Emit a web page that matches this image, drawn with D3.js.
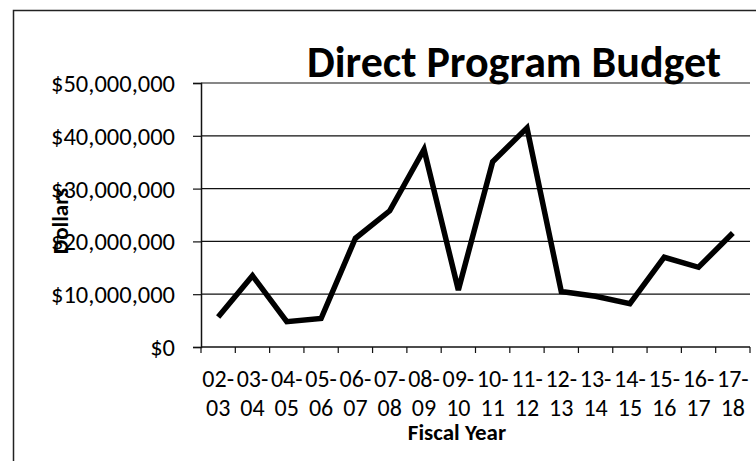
<!DOCTYPE html>
<html>
<head>
<meta charset="utf-8">
<script src="https://cdn.jsdelivr.net/npm/d3@7"></script>
<style>
  html, body { margin: 0; padding: 0; background: #fff; }
  svg { display: block; }
  text { font-family: Carlito, Calibri, Lato, "Open Sans", sans-serif; fill: #000; }
</style>
</head>
<body>
<svg id="chart" width="756" height="461"></svg>
<script>
const categories = ["02-03","03-04","04-05","05-06","06-07","07-08","08-09","09-10","10-11","11-12","12-13","13-14","14-15","15-16","16-17","17-18"];
const budget = [5700000, 13500000, 4800000, 5400000, 20600000, 25800000, 37400000, 10800000, 35100000, 41500000, 10500000, 9600000, 8200000, 17000000, 15100000, 21600000];
const yTicks = [0, 10000000, 20000000, 30000000, 40000000, 50000000];
const title = "Direct Program Budget";
const xTitle = "Fiscal Year";
const yTitle = "Dollars";

const svg = d3.select("#chart");
const plot = { left: 201, right: 750, top: 83, bottom: 347 };

// outer border
svg.append("rect")
  .attr("x", 13.5).attr("y", 10.5)
  .attr("width", 800).attr("height", 500)
  .attr("fill", "none").attr("stroke", "#222").attr("stroke-width", 1.5);

const x = d3.scaleBand().domain(categories).range([plot.left, plot.right]).padding(0);
const y = d3.scaleLinear().domain([0, 50000000]).range([plot.bottom, plot.top]);

const fmt = v => "$" + d3.format(",")(v);

// gridlines
svg.append("g").selectAll("line").data(yTicks.filter(d => d > 0)).join("line")
  .attr("x1", plot.left).attr("x2", plot.right)
  .attr("y1", d => y(d)).attr("y2", d => y(d))
  .attr("stroke", "#111").attr("stroke-width", 1.2);

// y axis
const yAxis = svg.append("g")
  .attr("transform", `translate(${plot.left},0)`)
  .call(d3.axisLeft(y).tickValues(yTicks).tickFormat(fmt).tickSize(8).tickPadding(18));
yAxis.attr("font-size", null).attr("font-family", null);
yAxis.select(".domain").attr("stroke", "#111").attr("stroke-width", 1.5);
yAxis.selectAll(".tick line").attr("stroke", "#111").attr("stroke-width", 1.2);
yAxis.selectAll(".tick text")
  .style("font-size", "24.5px").attr("fill", "#000")
  .attr("dy", "0.35em");

// x axis with ticks at band boundaries
const boundaries = categories.map(c => x(c)).concat([plot.right]);
svg.append("line")
  .attr("x1", plot.left).attr("x2", plot.right)
  .attr("y1", plot.bottom).attr("y2", plot.bottom)
  .attr("stroke", "#111").attr("stroke-width", 1.5);
svg.append("g").selectAll("line").data(boundaries).join("line")
  .attr("x1", d => d).attr("x2", d => d)
  .attr("y1", plot.bottom).attr("y2", plot.bottom + 6)
  .attr("stroke", "#111").attr("stroke-width", 1.2);

const xl = svg.append("g").selectAll("text").data(categories).join("text")
  .attr("text-anchor", "middle")
  .style("font-size", "24px");
xl.append("tspan")
  .attr("x", d => x(d) + x.bandwidth() / 2)
  .attr("y", 387)
  .text(d => d.split("-")[0] + "-");
xl.append("tspan")
  .attr("x", d => x(d) + x.bandwidth() / 2)
  .attr("y", 416)
  .text(d => d.split("-")[1]);

// line
const line = d3.line()
  .x((d, i) => x(categories[i]) + x.bandwidth() / 2)
  .y(d => y(d));
svg.append("path")
  .datum(budget)
  .attr("d", line)
  .attr("fill", "none")
  .attr("stroke", "#000")
  .attr("stroke-width", 5.5)
  .attr("stroke-linejoin", "miter")
  .attr("stroke-linecap", "butt");

// title
svg.append("text")
  .attr("x", 514).attr("y", 77)
  .attr("text-anchor", "middle")
  .style("font-size", "44px").attr("font-weight", "bold")
  .text(title);

// axis titles
svg.append("text")
  .attr("x", 457).attr("y", 440)
  .attr("text-anchor", "middle")
  .style("font-size", "23px").attr("font-weight", "bold")
  .text(xTitle);

svg.append("text")
  .attr("transform", "translate(68,221) rotate(-90)")
  .attr("text-anchor", "middle")
  .style("font-size", "23px").attr("font-weight", "bold")
  .text(yTitle);
</script>
</body>
</html>
